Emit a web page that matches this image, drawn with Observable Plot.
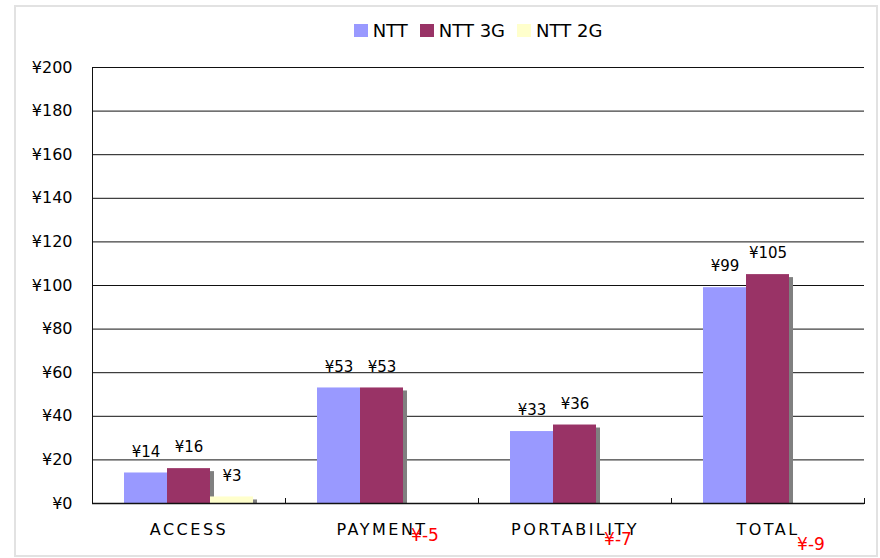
<!DOCTYPE html>
<html><head><meta charset="utf-8">
<script src="https://cdn.jsdelivr.net/npm/d3@7"></script>
<script src="https://cdn.jsdelivr.net/npm/@observablehq/plot@0.6"></script>
<style>
body{margin:0;background:#fff;font-family:"DejaVu Sans",sans-serif;}
#wrap{position:relative;width:880px;height:558px;overflow:hidden;background:#fff;}
#border{position:absolute;left:14px;top:5px;width:864px;height:552px;border:2px solid #e2e2e2;box-sizing:border-box;pointer-events:none;}
#legend{height:45px;box-sizing:border-box;padding-top:16px;margin-left:92px;width:772px;display:flex;justify-content:center;font-size:18px;line-height:18px;color:#000;}
.item{display:flex;align-items:center;margin:0 6px;}
.sw{width:14px;height:13px;margin-right:5px;display:inline-block;}
#chart{display:block;}
#chart g[aria-label="fx-axis tick label"] text{letter-spacing:2.5px;}
</style>
</head><body>
<div id="wrap">
<div id="border"></div>
<div id="legend"></div>
<div id="chart"></div>
</div>
<script>
const categories = ["ACCESS", "PAYMENT", "PORTABILITY", "TOTAL"];
const seriesNames = ["NTT", "NTT 3G", "NTT 2G"];
const nttValues = [14, 53, 33, 99];
const ntt3gValues = [16, 53, 36, 105];
const ntt2gValues = [3, -5, -7, -9];
const seriesColors = ["#9999FF", "#993366", "#FFFFCC"];
const yTicks = [0, 20, 40, 60, 80, 100, 120, 140, 160, 180, 200];

const allValues = [nttValues, ntt3gValues, ntt2gValues];
const rows = [];
categories.forEach((cat, i) => {
  seriesNames.forEach((s, j) => rows.push({cat, series: s, value: allValues[j][i]}));
});
const pos = rows.filter(d => d.value >= 0);
const neg = rows.filter(d => d.value < 0);

// legend
const legend = document.getElementById("legend");
seriesNames.forEach((s, j) => {
  const it = document.createElement("div");
  it.className = "item";
  const sw = document.createElement("span");
  sw.className = "sw";
  sw.style.background = seriesColors[j];
  it.appendChild(sw);
  const t = document.createElement("span");
  t.textContent = s;
  it.appendChild(t);
  legend.appendChild(it);
});

const H = 513, MT = 22, MB = 55;
const chart = Plot.plot({
  width: 880,
  height: H,
  marginLeft: 92,
  marginRight: 16,
  marginTop: MT,
  marginBottom: MB,
  style: {fontFamily: "DejaVu Sans", fontSize: "16px", color: "#000", background: "transparent", overflow: "visible"},
  fx: {domain: categories, padding: 0, label: null},
  x: {domain: seriesNames, paddingInner: 0, paddingOuter: 0.744, axis: null},
  y: {domain: [0, 200], label: null},
  color: {domain: seriesNames, range: seriesColors},
  marks: [
    Plot.ruleY(yTicks, {stroke: "#111", strokeWidth: 1}),
    Plot.barY(pos, {fx: "cat", x: "series", y: "value", fill: "#808080", dx: 4, insetTop: 3}),
    Plot.barY(pos, {fx: "cat", x: "series", y: "value", fill: "series"}),
    Plot.text(pos, {fx: "cat", x: "series", y: "value", text: d => "¥" + d.value, dy: -21, fontSize: 15, fill: "#000"}),
    Plot.text(neg, {fx: "cat", x: "series", y: "value", text: d => "¥" + d.value, dy: 21, fontSize: 17, fill: "#FF0000"}),
    Plot.frame({anchor: "left", facetAnchor: "left", stroke: "#111"}),
    Plot.frame({anchor: "right", insetTop: H - MT - MB - 5, stroke: "#111"}),
    Plot.ruleY([0], {stroke: "#111", strokeWidth: 1.5}),
    Plot.axisY({ticks: yTicks, tickSize: 0, tickPadding: 20, tickFormat: d => "¥" + d, label: null, fill: "#000"}),
    Plot.axisFx({anchor: "bottom", tickSize: 0, tickPadding: 20, label: null, fill: "#000"})
  ]
});
document.getElementById("chart").appendChild(chart);
</script>
</body></html>
